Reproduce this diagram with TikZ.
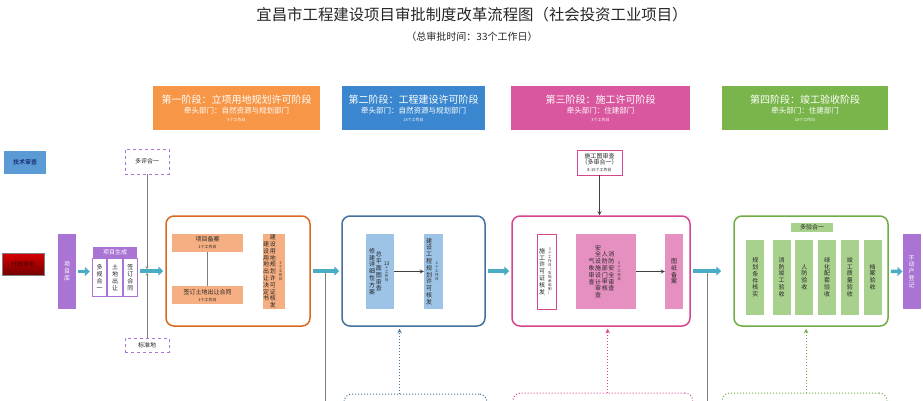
\documentclass[tikz,border=0pt]{standalone}
\usepackage{fontspec}
\setmainfont{Noto Sans CJK SC}
\usetikzlibrary{positioning,arrows.meta}
\definecolor{stageorange}{HTML}{F79646}
\definecolor{stageblue}{HTML}{3A87CF}
\definecolor{stagepink}{HTML}{D9579E}
\definecolor{stagegreen}{HTML}{79B54A}
\definecolor{legendblue}{HTML}{5B9BD5}
\definecolor{purpleA}{HTML}{A974D4}
\definecolor{flowcyan}{HTML}{4BACC6}
\definecolor{borderorange}{HTML}{D9691F}
\definecolor{borderblue}{HTML}{41719C}
\definecolor{borderpink}{HTML}{D6458D}
\definecolor{bordergreen}{HTML}{70AD47}
\definecolor{boxorange}{HTML}{F5AF82}
\definecolor{boxblue}{HTML}{9DC3E6}
\definecolor{boxpink}{HTML}{E590C0}
\definecolor{boxgreen}{HTML}{A9D18E}
\definecolor{linegrey}{HTML}{7F7F7F}
\definecolor{textdark}{HTML}{262626}
\makeatletter
\newcommand{\vstack}[1]{\@tfor\vch:=#1\do{\vch\par}}
\makeatother
\newcommand{\tinyfont}{\fontsize{4}{4.6}\selectfont}
\newcommand{\vcol}[1]{\parbox[c]{1.1em}{\centering\vstack{#1}}}
\newcommand{\vsmall}[1]{\parbox[c]{1.5em}{\centering\fontsize{3.5}{4}\selectfont\vstack{#1}}}
\newcommand{\headtext}[3]{{\fontsize{10}{12}\selectfont #1}\\[2pt]{\fontsize{7.5}{9}\selectfont #2}\\[1pt]{\tinyfont #3}}
\begin{document}
\begin{tikzpicture}[x=1pt, y=-1pt, >=stealth,
    every node/.style={font=\fontsize{6}{6.8}\selectfont, inner sep=0pt, text=textdark},
    stagehead/.style={fill=#1, text=white, minimum height=44pt, align=center},
    stagebox/.style={draw=#1, line width=1.5pt, rounded corners=8pt, minimum height=110pt},
    vbox/.style={fill=#1, minimum height=75pt},
    colbox/.style={draw=purpleA, fill=white, line width=0.8pt, minimum width=14.67pt, minimum height=38pt},
    dashbox/.style={draw=purpleA, dashed, line width=0.8pt, minimum width=44pt},
    dotbox/.style={draw=#1, dotted, line width=1pt, rounded corners=8pt, minimum height=60pt},
    dotarrow/.style={draw=#1, dotted, line width=1pt, ->, shorten >=2pt},
    flow/.style={draw=flowcyan, line width=3.5pt, -{Triangle[length=5pt,width=9pt]}, shorten <=2pt, shorten >=2pt},
    link/.style={draw=linegrey, line width=0.8pt},
    darkline/.style={draw=black!75, line width=0.8pt}]
    \useasboundingbox (0,0) rectangle (923,400);
    \node[font=\fontsize{15.4}{18}\selectfont] (title) at (472,15) {宜昌市工程建设项目审批制度改革流程图（社会投资工业项目）};
    \node[font=\fontsize{10}{12}\selectfont] (subtitle) at (472,37) {（总审批时间：33个工作日）};
    \node[stagehead=stageorange, minimum width=167pt] (head1) at (236.5,108) {\headtext{第一阶段：立项用地规划许可阶段}{牵头部门：自然资源与规划部门}{5个工作日}};
    \node[stagehead=stageblue, minimum width=143pt] (head2) at (413.5,108) {\headtext{第二阶段：工程建设许可阶段}{牵头部门：自然资源与规划部门}{15个工作日}};
    \node[stagehead=stagepink, minimum width=179pt] (head3) at (600.5,108) {\headtext{第三阶段：施工许可阶段}{牵头部门：住建部门}{3个工作日}};
    \node[stagehead=stagegreen, minimum width=166pt] (head4) at (805,108) {\headtext{第四阶段：竣工验收阶段}{牵头部门：住建部门}{10个工作日}};
    \node[fill=legendblue, minimum width=42pt, minimum height=23pt, text=blue!30!black] (jishu) at (25,162.5) {技术审查};
    \node[top color=red!85!black, bottom color=red!45!black, draw=black!50, minimum width=42pt, minimum height=22pt, text=red!25!black] (xingzheng) at (23,264) {行政审批};
    \node[vbox=purpleA, minimum width=18pt, text=white] (xiangmuku) at (67,271.5) {\vcol{项目库}};
    \node[fill=purpleA, text=white, minimum width=44pt, minimum height=11pt] (shengcheng) at (115,252.5) {项目生成};
    \node[colbox, below=0pt of shengcheng] (tudi) {\vcol{土地出让}};
    \node[colbox, left=0pt of tudi] (duogui) {\vcol{多规合一}};
    \node[colbox, right=0pt of tudi] (qianding) {\vcol{签订合同}};
    \node[dashbox, minimum height=25pt] (duoping) at (147,161.5) {多评合一};
    \node[dashbox, minimum height=14pt] (biaozhun) at (147,345) {标准地};
    \node[stagebox=borderorange, minimum width=144pt] (s1) at (238,271) {};
    \node[stagebox=borderblue, minimum width=143pt] (s2) at (413.5,271) {};
    \node[stagebox=borderpink, minimum width=178pt] (s3) at (601,271) {};
    \node[stagebox=bordergreen, minimum width=154pt] (s4) at (811,271) {};
    \node[fill=boxorange, minimum width=71pt, minimum height=18pt, align=center] (beian) at (207.5,243) {项目备案\\{\tinyfont 1个工作日}};
    \node[fill=boxorange, minimum width=71pt, minimum height=18pt, align=center, below=34pt of beian] (hetong) {签订土地出让合同\\{\tinyfont 1个工作日}};
    \node[vbox=boxorange, minimum width=22pt] (guihua) at (274,271.5) {\vcol{建设用地出让决定书}\vcol{建设用地规划许可证核发}\vsmall{3个工作日}};
    \node[vbox=boxblue, minimum width=28pt] (fangan) at (380,271.5) {\vcol{修建详细性方案}\vcol{总平面图审查}\parbox[c]{1.5em}{\centering{\fontsize{5}{6}\selectfont 13\par}\fontsize{3.5}{4}\selectfont\vstack{个工作日}}};
    \node[vbox=boxblue, minimum width=19pt] (xuke) at (433.5,271.5) {\vcol{建设工程规划许可核发}\vsmall{2个工作日}};
    \node[vbox=white, draw=borderpink, line width=0.6pt, minimum width=19pt] (shigong) at (546.5,271.5) {\vcol{施工许可证核发}\vsmall{3个工作日（告知承诺制）}};
    \node[vbox=boxpink, minimum width=60pt] (shencha) at (606,271.5) {\vcol{气象审查}\vcol{安全设施设计审查}\vcol{人防部门审核}\vcol{消防安全审查}\vsmall{5个工作日}};
    \node[vbox=boxpink, minimum width=18pt] (tuzhi) at (674,271.5) {\vcol{图纸备案}};
    \node[draw=borderpink, fill=white, line width=0.6pt, minimum width=45pt, minimum height=25pt, align=center] (shigongtu) at (599.5,162.5) {施工图审查\\（多审合一）\\{\tinyfont 8-15个工作日}};
    \node[fill=boxgreen, minimum width=42pt, minimum height=9pt] (duoyan) at (812,227) {多验合一};
    \node[vbox=boxgreen, minimum width=18pt] (hexian) at (755.3,277.5) {\vcol{规划条件核实}};
    \node[vbox=boxgreen, minimum width=18pt] (xiaofang) at (781.7,277) {\vcol{消防竣工验收}};
    \node[vbox=boxgreen, minimum width=18pt] (renfang) at (804.3,277) {\vcol{人防验收}};
    \node[vbox=boxgreen, minimum width=18pt] (lvhua) at (827.2,277) {\vcol{绿化配套验收}};
    \node[vbox=boxgreen, minimum width=18pt] (zhiliang) at (849.8,277) {\vcol{竣工质量验收}};
    \node[vbox=boxgreen, minimum width=18pt] (dangan) at (872.5,277) {\vcol{档案验收}};
    \node[vbox=purpleA, minimum width=18pt, text=white] (budongchan) at (911.7,271.5) {\vcol{不动产登记}};
    \node[dotbox=borderblue, minimum width=143pt] (d2) at (415.5,424) {};
    \node[dotbox=borderpink, minimum width=180pt] (d3) at (602.7,423) {};
    \node[dotbox=bordergreen, minimum width=165pt] (d4) at (804.5,423) {};
    \coordinate (low1) at (325,410);
    \coordinate (low2) at (707.5,410);
    \draw[link] (beian) -- (hetong);
    \draw[link, -{Stealth[length=2.5pt,width=3pt]}, shorten >=2pt] (duoping) -- (duoping |- s1.west);
    \draw[link, -{Stealth[length=2.5pt,width=3pt]}, shorten >=2pt] (biaozhun) -- (biaozhun |- s1.west);
    \draw[link, shorten >=2pt] (low1) -- (low1 |- s1.east);
    \draw[link, shorten >=2pt] (low2) -- (low2 |- s3.east);
    \draw[flow] (xiangmuku) -- (xiangmuku -| duogui.west);
    \draw[flow] (qianding.east |- s1.west) -- (s1.west);
    \draw[flow] (s1) -- (s2);
    \draw[flow] (s2) -- (s3);
    \draw[flow, shorten >=12pt] (s3) -- (s4);
    \draw[flow, shorten >=0pt] (s4) -- (budongchan);
    \draw[->, darkline] (fangan) -- (xuke);
    \draw[->, darkline] (shencha) -- (tuzhi);
    \draw[->, darkline] (shigongtu) -- (shigongtu |- s3.north);
    \draw[dotarrow=borderblue] ([xshift=-16pt]d2.north) -- ([xshift=-16pt]d2.north |- s2.south);
    \draw[dotarrow=borderpink] ([xshift=5pt]d3.north) -- ([xshift=5pt]d3.north |- s3.south);
    \draw[dotarrow=bordergreen] ([xshift=1.5pt]d4.north) -- ([xshift=1.5pt]d4.north |- s4.south);
\end{tikzpicture}
\end{document}
